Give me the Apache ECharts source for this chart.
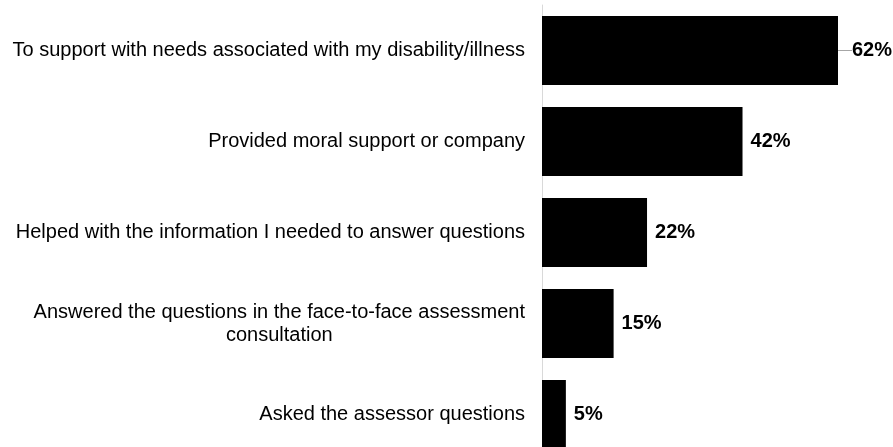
<!DOCTYPE html>
<html>
<head>
<meta charset="utf-8">
<script src="https://cdn.jsdelivr.net/npm/echarts@6/dist/echarts.min.js"></script>
<style>
  html, body { margin: 0; padding: 0; background: #ffffff; }
  #chart { width: 893px; height: 447px; }
</style>
</head>
<body>
<div id="chart"></div>
<script>
// Reasons for the companion's help, share of respondents (%)
const categories = [
  'To support with needs associated with my disability/illness',
  'Provided moral support or company',
  'Helped with the information I needed to answer questions',
  'Answered the questions in the face-to-face assessment\nconsultation',
  'Asked the assessor questions'
];
const values = [62, 42, 22, 15, 5];

const FONT = 'Liberation Sans, Arial, sans-serif';

// The top bar's label sits a little further out, joined by a short leader line
const seriesData = values.map(function (v, i) {
  return i === 0
    ? { value: v, labelLine: { show: true, lineStyle: { color: '#a6a6a6', width: 1 } } }
    : { value: v };
});

const chart = echarts.init(document.getElementById('chart'));

chart.setOption({
  animation: false,
  grid: {
    left: 542, top: 5, width: 296, height: 455,
    containLabel: false,
    outerBoundsMode: 'none'
  },
  xAxis: {
    type: 'value',
    min: 0,
    max: 62,
    show: false
  },
  yAxis: {
    type: 'category',
    inverse: true,
    data: categories,
    axisLine: { show: true, lineStyle: { color: '#d9d9d9', width: 1 } },
    axisTick: { show: false },
    axisLabel: {
      margin: 17,
      fontFamily: FONT,
      fontSize: 20,
      color: '#000000',
      lineHeight: 23,
      formatter: function (v) {
        return v.split('\n').map(function (s) { return '{c|' + s + '}'; }).join('\n');
      },
      rich: {
        c: {
          align: 'center',
          fontFamily: FONT,
          fontSize: 20,
          color: '#000000',
          lineHeight: 23
        }
      }
    }
  },
  series: [{
    type: 'bar',
    data: seriesData,
    barCategoryGap: '24%',
    itemStyle: { color: '#000000' },
    label: {
      show: true,
      position: 'right',
      distance: 8,
      formatter: '{c}%',
      fontFamily: FONT,
      fontSize: 20,
      fontWeight: 'bold',
      color: '#000000'
    },
    labelLine: { show: false },
    labelLayout: function (params) {
      return params.dataIndex === 0 ? { dx: 6 } : {};
    }
  }]
});
</script>
</body>
</html>
